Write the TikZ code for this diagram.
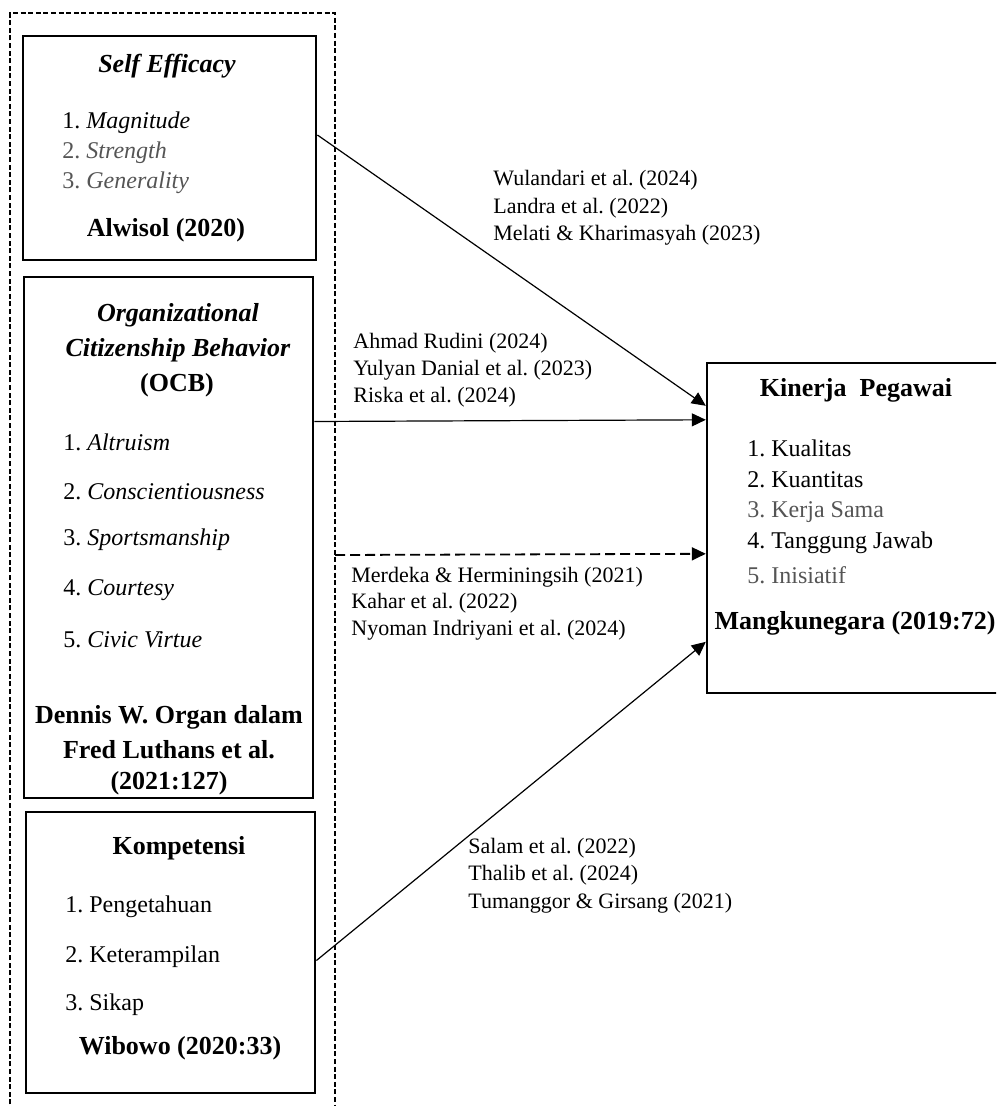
\documentclass[tikz,border=0pt]{standalone}
\usepackage{fontspec}
\setmainfont{Liberation Serif}
\usepackage[RGB]{xcolor}
\usepackage{tikz}
\usetikzlibrary{arrows.meta}
\frenchspacing
\definecolor{soft}{RGB}{85,85,85}
\newcommand{\drawarrow}{\draw[line width=0.6pt,-{Triangle[length=7pt,width=6.5pt]}]}
\newcommand{\headnode}[4]{\node[headtext] (#1) at (#2,#3) {#4};}
\newcommand{\itemnode}[4]{\node[itemtext] (#1) at (#2,#3) {#4};}
\newcommand{\refnode}[4]{\node[reftext] (#1) at (#2,#3) {#4};}
\tikzset{
  box/.style={draw, line width=1.4pt, inner sep=0pt},
  headtext/.style={inner sep=0pt, font=\fontsize{13}{15}\selectfont\bfseries},
  itemtext/.style={anchor=west, inner sep=0pt, font=\fontsize{12}{14}\selectfont},
  reftext/.style={anchor=west, inner sep=0pt, font=\fontsize{11}{13}\selectfont},
}
\begin{document}
\begin{tikzpicture}[x=0.5pt,y=-0.5pt]
\useasboundingbox (0,0) rectangle (996,1106);
\clip (0,0) rectangle (996,1106);
% group of independent variables
\draw[line width=0.6pt, dash pattern=on 2.5pt off 1.3pt] (10,1112) -- (10,13) -- (335,13) -- (335,1112);
\coordinate (grpE) at (335,555);
% boxes
\node[box, minimum width=146.5pt, minimum height=112pt] (selfeff) at (169.5,148) {};
\node[box, minimum width=144.5pt, minimum height=260.5pt] (ocb) at (168.5,537.5) {};
\node[box, minimum width=144.5pt, minimum height=140.5pt] (komp) at (170.5,952.5) {};
\node[box, line width=1.2pt, minimum width=151.5pt, minimum height=165pt] (kinerja) at (858.5,528) {};
% Self Efficacy
\headnode{seT}{167}{66}{\textit{Self Efficacy}}
\itemnode{se1}{62}{123}{1. \textit{Magnitude}}
\itemnode{se2}{62}{153}{\color{soft}2. \textit{Strength}}
\itemnode{se3}{62}{183}{\color{soft}3. \textit{Generality}}
\headnode{seS}{166}{230}{Alwisol (2020)}
% OCB
\headnode{ocT1}{178}{315}{\textit{Organizational}}
\headnode{ocT2}{178}{350}{\textit{Citizenship Behavior}}
\headnode{ocT3}{177}{385}{(OCB)}
\itemnode{oc1}{63}{442}{1. \textit{Altruism}}
\itemnode{oc2}{63}{492}{2. \textit{Conscientiousness}}
\itemnode{oc3}{63}{540}{3. \textit{Sportsmanship}}
\itemnode{oc4}{63}{590}{4. \textit{Courtesy}}
\itemnode{oc5}{63}{640}{5. \textit{Civic Virtue}}
\headnode{ocS1}{169}{717}{Dennis W. Organ dalam}
\headnode{ocS2}{169}{750}{Fred Luthans et al.}
\headnode{ocS3}{169}{783}{(2021:127)}
% Kompetensi
\headnode{koT}{179}{848}{Kompetensi}
\itemnode{ko1}{65}{907}{1. Pengetahuan}
\itemnode{ko2}{65}{957}{2. Keterampilan}
\itemnode{ko3}{65}{1005}{3. Sikap}
\headnode{koS}{180}{1048}{Wibowo (2020:33)}
% Kinerja Pegawai
\headnode{kpT}{856}{390}{Kinerja\ \ Pegawai}
\itemnode{kp1}{747}{448}{1. Kualitas}
\itemnode{kp2}{747}{480}{2. Kuantitas}
\itemnode{kp3}{747}{512}{\color{soft}3. Kerja Sama}
\itemnode{kp4}{747}{543}{4. Tanggung Jawab}
\itemnode{kp5}{747}{575}{\color{soft}5. Inisiatif}
\headnode{kpS}{855}{623}{Mangkunegara (2019:72)}
% arrows
\drawarrow ([yshift=6.5pt]selfeff.east) -- ([yshift=-22pt]kinerja.north west);
\drawarrow ([yshift=58pt]ocb.east) -- ([yshift=-29pt]kinerja.north west);
\draw[line width=0.9pt, dash pattern=on 5pt off 2.5pt, -{Triangle[length=7pt,width=6.5pt]}] (grpE) -- ([yshift=-96pt]kinerja.north west);
\drawarrow ([yshift=-4pt]komp.east) -- ([yshift=-140pt]kinerja.north west);
% references
\refnode{r1}{493}{180}{Wulandari et al. (2024)}
\refnode{r2}{493}{208}{Landra et al. (2022)}
\refnode{r3}{493}{235}{Melati \& Kharimasyah (2023)}
\refnode{r4}{353}{343}{Ahmad Rudini (2024)}
\refnode{r5}{353}{370}{Yulyan Danial et al. (2023)}
\refnode{r6}{353}{397}{Riska et al. (2024)}
\refnode{r7}{351}{577}{Merdeka \& Herminingsih (2021)}
\refnode{r8}{351}{603}{Kahar et al. (2022)}
\refnode{r9}{351}{630}{Nyoman Indriyani et al. (2024)}
\refnode{r10}{468}{848}{Salam et al. (2022)}
\refnode{r11}{468}{875}{Thalib et al. (2024)}
\refnode{r12}{468}{903}{Tumanggor \& Girsang (2021)}
\end{tikzpicture}
\end{document}
